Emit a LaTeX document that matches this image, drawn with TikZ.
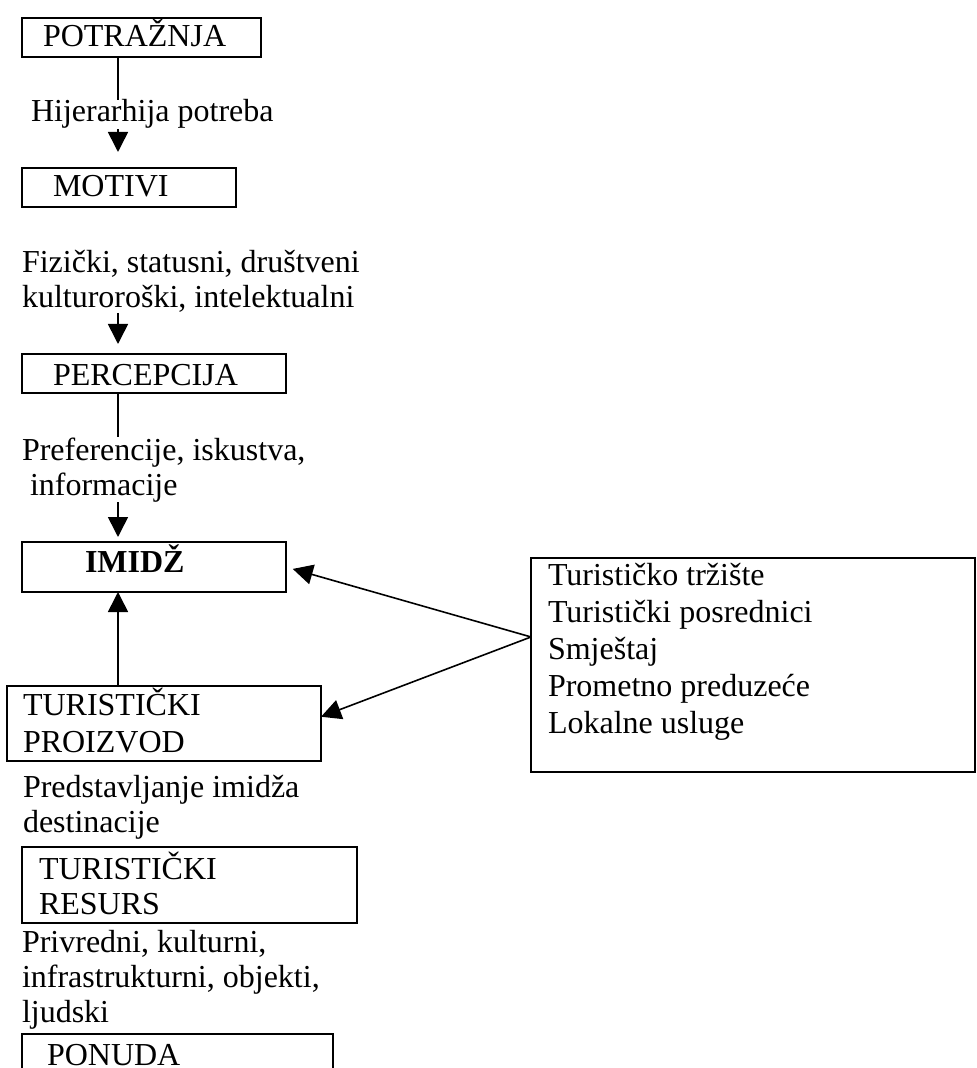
\documentclass[tikz,border=0pt]{standalone}
\usepackage{fontspec}
\setmainfont{Liberation Serif}
\usetikzlibrary{arrows.meta,calc}
\pgfdeclarelayer{bg}
\pgfsetlayers{bg,main}
\begin{document}
\begin{tikzpicture}[x=0.5pt,y=-0.5pt,
  box/.style={draw=black,line width=1pt,rectangle,inner sep=0pt,outer sep=0pt,anchor=north west},
  txt/.style={inner sep=0pt,outer sep=0pt,anchor=base west,align=left,font=\fontsize{16}{17.5}\selectfont},
  txtw/.style={txt,font=\fontsize{16}{18.5}\selectfont},
  conn/.style={line width=0.8pt,-{Triangle[width=10pt,length=10pt]}}]
\useasboundingbox (0,0) rectangle (976,1068);
\begin{pgfonlayer}{bg}
\fill[white] (0,0) rectangle (976,1068);
\end{pgfonlayer}
\coordinate (col) at (118,0);
% boxes
\node[box,minimum width=119.5pt,minimum height=19.5pt] (potraznja) at (22,18) {};
\node[box,minimum width=107pt,minimum height=19.5pt] (motivi) at (22,168) {};
\node[box,minimum width=132pt,minimum height=19.5pt] (perc) at (22,354) {};
\node[box,minimum width=132pt,minimum height=25pt] (imidz) at (22,542) {};
\node[box,minimum width=157pt,minimum height=37.5pt] (tp) at (7,686) {};
\node[box,minimum width=222pt,minimum height=107pt] (big) at (531,558) {};
\node[box,minimum width=167.5pt,minimum height=38pt] (tr) at (22,847) {};
\node[box,minimum width=155.5pt,minimum height=30pt] (ponuda) at (22,1034) {};
% texts (multi-line nodes are anchored at the baseline of their last line)
\node[txt] (tpot) at (43,47) {POTRAŽNJA};
\node[txt,fill=white] (thij) at (31,122) {Hijerarhija potreba};
\node[txt] (tmot) at (53,197) {MOTIVI};
\node[txt] (tfiz) at (22,308) {Fizički, statusni, društveni\\kulturoroški, intelektualni};
\node[txt] (tper) at (53,386) {PERCEPCIJA};
\node[txt,fill=white] (tpref) at (22,495) {Preferencije, iskustva,\\~informacije};
\node[txt] (timi) at (85,572) {\textbf{IMIDŽ}};
\node[txtw] (ttp) at (23,752) {TURISTIČKI\\PROIZVOD};
\node[txtw] (tbig) at (548,733) {Turističko tržište\\Turistički posrednici\\Smještaj\\Prometno preduzeće\\Lokalne usluge};
\node[txt] (tpred) at (23,832) {Predstavljanje imidža\\destinacije};
\node[txt] (ttr) at (39,914) {TURISTIČKI\\RESURS};
\node[txt] (tpriv) at (22,1022) {Privredni, kulturni,\\infrastrukturni, objekti,\\ljudski};
\node[txt] (tpon) at (47,1065) {PONUDA};
% connectors
\coordinate (src) at ($(big.north west)!0.369!(big.south west)$);
\coordinate (tpin) at ($(tp.north east)!0.41!(tp.south east)$);
\begin{pgfonlayer}{bg}
\draw[conn,shorten >=8pt] (potraznja.south -| col) -- (motivi.north -| col);
\draw[conn,shorten >=5pt] (tfiz.south -| col) -- (perc.north -| col);
\draw[conn,shorten >=2.5pt] (perc.south -| col) -- (imidz.north -| col);
\draw[conn] (tp.north -| col) -- (imidz.south -| col);
\draw[conn,shorten >=3.5pt] (src) -- (imidz.east);
\draw[conn] (src) -- (tpin);
\end{pgfonlayer}
\end{tikzpicture}
\end{document}
